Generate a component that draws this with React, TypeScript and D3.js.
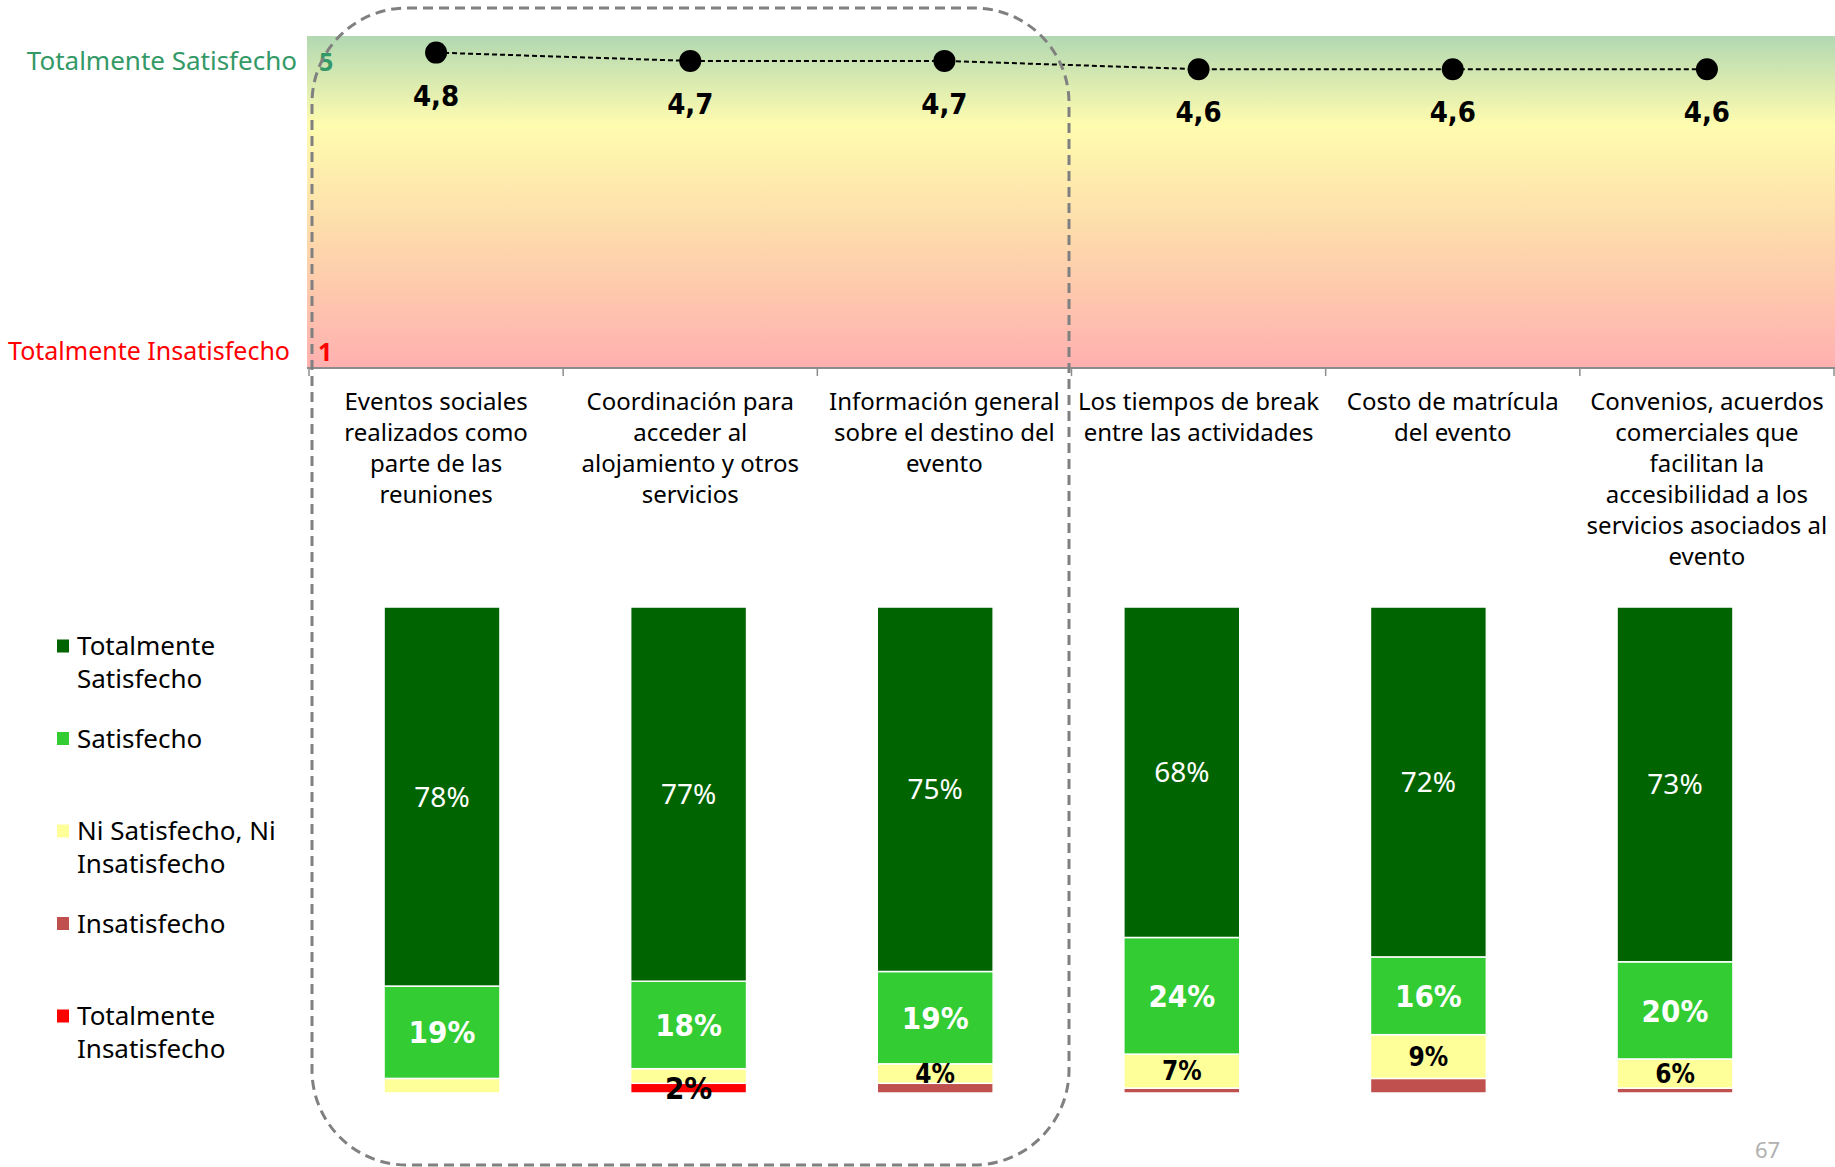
import * as d3 from 'd3';

const categories = [
  'Eventos sociales\nrealizados como\nparte de las\nreuniones',
  'Coordinación para\nacceder al\nalojamiento y otros\nservicios',
  'Información general\nsobre el destino del\nevento',
  'Los tiempos de break\nentre las actividades',
  'Costo de matrícula\ndel evento',
  'Convenios, acuerdos\ncomerciales que\nfacilitan la\naccesibilidad a los\nservicios asociados al\nevento',
];

const averages = [4.8, 4.7, 4.7, 4.6, 4.6, 4.6];

const seriesNames = [
  'Totalmente Satisfecho',
  'Satisfecho',
  'Ni Satisfecho, Ni Insatisfecho',
  'Insatisfecho',
  'Totalmente Insatisfecho',
];
const legendLabels = [
  'Totalmente\nSatisfecho',
  'Satisfecho',
  'Ni Satisfecho, Ni\nInsatisfecho',
  'Insatisfecho',
  'Totalmente\nInsatisfecho',
];

const totSatisfecho = [78, 77, 75, 68, 72, 73];
const satisfecho = [19, 18, 19, 24, 16, 20];
const niNi = [3, 3, 4, 7, 9, 6];
const insatisfecho = [0, 0, 2, 1, 3, 1];
const totInsatisfecho = [0, 2, 0, 0, 0, 0];

// which segment values get a data label (as in the original slide)
const showLabels = [
  [true, true, true, true, true, true],
  [true, true, true, true, true, true],
  [false, false, true, true, true, true],
  [false, false, false, false, false, false],
  [false, true, false, false, false, false],
];

const colors = ['#006400', '#33cc33', '#ffff99', '#c0504d', '#ff0000'];
const scaleTop = [1, 5];

const W = 1835;
const H = 1167;
const sans = "'Noto Sans', 'Open Sans', sans-serif";
const cond = "'Liberation Sans Narrow', 'DejaVu Sans Condensed', 'Roboto', sans-serif";

export default function App() {
  // top chart: average score
  const xTop = d3.scaleBand<string>().domain(categories).range([309, 1834]);
  const yTop = d3.scaleLinear().domain(scaleTop).range([368, 36]);
  const fmt = d3.formatLocale({ decimal: ',', thousands: '.', grouping: [3], currency: ['', '€'] }).format('.1f');
  const cx = (c: string) => xTop(c)! + xTop.bandwidth() / 2;
  const line = d3
    .line<number>()
    .x((_, i) => cx(categories[i]))
    .y(d => yTop(d));

  // bottom chart: distribution
  const xBar = d3
    .scaleBand<string>()
    .domain(categories)
    .range([318.7, 1798.3])
    .paddingInner(0.53)
    .paddingOuter(0.265);
  const yBar = d3.scaleLinear().domain([0, 100]).range([1093, 607]);

  const rows = categories.map((c, i) => ({
    cat: c,
    s0: totInsatisfecho[i],
    s1: insatisfecho[i],
    s2: niNi[i],
    s3: satisfecho[i],
    s4: totSatisfecho[i],
  }));
  // stack from bottom: Tot. insatisfecho ... Tot. satisfecho
  const keys = ['s0', 's1', 's2', 's3', 's4'];
  const stacked = d3.stack<any>().keys(keys)(rows);
  const seriesIdx = (k: number) => 4 - k; // map stack key to series index

  const labelStyle = [
    { fill: '#fff', font: sans, weight: 400, size: 28 },
    { fill: '#fff', font: cond, weight: 700, size: 31 },
    { fill: '#000', font: cond, weight: 700, size: 26 },
    { fill: '#000', font: cond, weight: 700, size: 26 },
    { fill: '#000', font: cond, weight: 700, size: 31 },
  ];

  const axisTicks = categories.map(c => xTop(c)!).concat([xTop.range()[1]]);

  return (
    <svg width={W} height={H} style={{ position: 'absolute', left: 0, top: 0, background: '#fff' }}>
      <defs>
        <linearGradient id="band" x1="0" y1="0" x2="0" y2="1">
          <stop offset="0" stopColor="#b2d8b2" />
          <stop offset="0.27" stopColor="#fffcaf" />
          <stop offset="0.6" stopColor="#fddaab" />
          <stop offset="1" stopColor="#ffb0b0" />
        </linearGradient>
      </defs>

      <rect x={307} y={yTop(5)} width={W - 307} height={yTop(1) - yTop(5)} fill="url(#band)" />
      <line x1={307} x2={W} y1={yTop(1)} y2={yTop(1)} stroke="#8c8c8c" strokeWidth={2} />
      {axisTicks.map((t, i) => (
        <line key={i} x1={t} x2={t} y1={yTop(1)} y2={yTop(1) + 8} stroke="#8c8c8c" strokeWidth={1.5} />
      ))}

      <text x={297} y={70} textAnchor="end" fontFamily={sans} fontSize={26} fill="#339966">
        Totalmente Satisfecho
      </text>
      <text x={290} y={360} textAnchor="end" fontFamily={sans} fontSize={25} fill="#ff0000">
        Totalmente Insatisfecho
      </text>
      <text x={319} y={71} fontFamily={sans} fontWeight={700} fontSize={25} fill="#339966">
        5
      </text>
      <text x={318} y={361} fontFamily={sans} fontWeight={700} fontSize={25} fill="#ff0000">
        1
      </text>

      <path d={line(averages)!} fill="none" stroke="#000" strokeWidth={2} strokeDasharray="5,3" />
      {averages.map((v, i) => (
        <g key={i}>
          <circle cx={cx(categories[i])} cy={yTop(v)} r={11} fill="#000" />
          <text
            x={cx(categories[i])}
            y={yTop(v) + 53}
            textAnchor="middle"
            fontFamily={cond}
            fontWeight={700}
            fontSize={29}
            fill="#000"
          >
            {fmt(v)}
          </text>
        </g>
      ))}

      {categories.map(c => (
        <text key={c} x={cx(c)} y={410} textAnchor="middle" fontFamily={sans} fontSize={24} fill="#000">
          {c.split('\n').map((l, j) => (
            <tspan key={j} x={cx(c)} dy={j === 0 ? 0 : 31}>
              {l}
            </tspan>
          ))}
        </text>
      ))}

      {stacked.map((layer, k) => {
        const si = seriesIdx(k);
        return (
          <g key={layer.key}>
            {layer.map((d, i) =>
              d[1] - d[0] > 0 ? (
                <rect
                  key={i}
                  x={xBar(categories[i])}
                  y={yBar(d[1])}
                  width={xBar.bandwidth()}
                  height={yBar(d[0]) - yBar(d[1])}
                  fill={colors[si]}
                  stroke="#fff"
                  strokeWidth={1.5}
                />
              ) : null
            )}
          </g>
        );
      })}

      {stacked.map((layer, k) => {
        const si = seriesIdx(k);
        const st = labelStyle[si];
        return (
          <g key={'l' + layer.key}>
            {layer.map((d, i) =>
              showLabels[si][i] ? (
                <text
                  key={i}
                  x={xBar(categories[i])! + xBar.bandwidth() / 2}
                  y={(yBar(d[0]) + yBar(d[1])) / 2}
                  dy="0.36em"
                  textAnchor="middle"
                  fontFamily={st.font}
                  fontWeight={st.weight}
                  fontSize={st.size}
                  fill={st.fill}
                >
                  {d[1] - d[0]}%
                </text>
              ) : null
            )}
          </g>
        );
      })}

      {seriesNames.map((s, i) => (
        <g key={s} transform={`translate(0, ${646 + i * 92.5})`}>
          <rect x={57} y={-6.5} width={12} height={13} fill={colors[i]} />
          <text x={77} y={9} fontFamily={sans} fontSize={26} fill="#000">
            {legendLabels[i].split('\n').map((l, j) => (
              <tspan key={j} x={77} dy={j === 0 ? 0 : 33}>
                {l}
              </tspan>
            ))}
          </text>
        </g>
      ))}

      <rect
        x={312}
        y={8}
        width={757}
        height={1157}
        rx={95}
        fill="none"
        stroke="#808080"
        strokeWidth={3}
        strokeDasharray="10,6"
      />

      <text x={1755} y={1158} fontFamily={sans} fontSize={22} fill="#b0b0b0">
        67
      </text>
    </svg>
  );
}
